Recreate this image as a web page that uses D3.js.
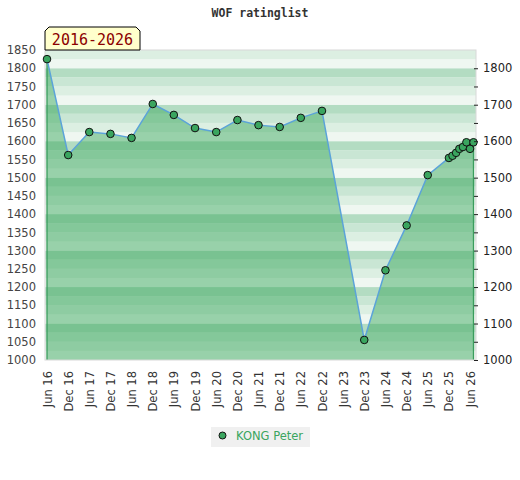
<!DOCTYPE html>
<html>
<head>
<meta charset="utf-8">
<script src="https://cdn.jsdelivr.net/npm/d3@7"></script>
<style>
  body { margin: 0; background: #fff; }
  svg text { font-family: "DejaVu Sans", sans-serif; }
</style>
</head>
<body>
<div id="container"></div>
<script>
const dates = [
  "2016-06", "2016-12", "2017-06", "2017-12", "2018-06", "2018-12",
  "2019-06", "2019-12", "2020-06", "2020-12", "2021-06", "2021-12",
  "2022-06", "2022-12", "2023-12", "2024-06", "2024-12", "2025-06",
  "2025-12", "2026-01", "2026-02", "2026-03", "2026-04", "2026-05",
  "2026-06", "2026-07"
];
const ratings = [
  1825, 1562, 1625, 1620, 1609, 1702,
  1672, 1636, 1625, 1658, 1644, 1639,
  1664, 1683, 1055, 1246, 1369, 1507,
  1554, 1560, 1568, 1579, 1584, 1597,
  1579, 1597
];
const xTickDates = [
  "2016-06", "2016-12", "2017-06", "2017-12", "2018-06", "2018-12",
  "2019-06", "2019-12", "2020-06", "2020-12", "2021-06", "2021-12",
  "2022-06", "2022-12", "2023-06", "2023-12", "2024-06", "2024-12",
  "2025-06", "2025-12", "2026-06"
];
const leftTicks = [1000, 1050, 1100, 1150, 1200, 1250, 1300, 1350, 1400,
  1450, 1500, 1550, 1600, 1650, 1700, 1750, 1800, 1850];
const rightTicks = [1000, 1100, 1200, 1300, 1400, 1500, 1600, 1700, 1800];
const playerName = "KONG Peter";
const title = "WOF ratinglist";
const period = "2016-2026";

const w = 520;
const h = 480;
const plot = { left: 45, right: 476, top: 50, bottom: 360 };
const parse = d3.timeParse("%Y-%m");
const fmt = d3.timeFormat("%b %y");

const points = dates.map((d, i) => ({ date: parse(d), value: ratings[i] }));

const x = d3.scaleTime()
  .domain([parse("2016-06"), parse("2026-06")])
  .range([47, 470]);
const y = d3.scaleLinear()
  .domain([1000, 1850])
  .range([plot.bottom, plot.top]);

// background stripes, 4 shades per 100 points (top of each block darkest)
const bandShades = ["#eff7f1", "#dcefe2", "#c9e6d4", "#b3dcc2"];

const svg = d3.select("#container")
  .append("svg")
  .attr("width", w)
  .attr("height", h);

svg.append("text")
  .attr("x", 260)
  .attr("y", 17)
  .attr("text-anchor", "middle")
  .style("font-family", "'DejaVu Sans Mono', monospace")
  .style("font-weight", "bold")
  .style("font-size", "11.5px")
  .attr("fill", "#333")
  .text(title);

svg.append("g")
  .selectAll("rect")
  .data(d3.range(1000, 1850, 25))
  .enter()
  .append("rect")
  .attr("x", plot.left)
  .attr("width", plot.right - plot.left)
  .attr("y", (d) => y(d + 25))
  .attr("height", (d) => y(d) - y(d + 25))
  .attr("fill", (d) => bandShades[((d - 1000) / 25) % 4]);

const area = d3.area()
  .x((d) => x(d.date))
  .y0(plot.bottom)
  .y1((d) => y(d.value));

svg.append("path")
  .datum(points)
  .attr("d", area)
  .attr("fill", "rgb(55,166,90)")
  .attr("fill-opacity", 0.47);

// side edges of the area
const first = points[0];
const last = points[points.length - 1];
[first, last].forEach((p) => {
  svg.append("line")
    .attr("x1", x(p.date))
    .attr("x2", x(p.date))
    .attr("y1", y(p.value))
    .attr("y2", plot.bottom)
    .attr("stroke", "#3a9d5d")
    .attr("stroke-width", 1.3);
});

// plot frame
svg.append("rect")
  .attr("x", plot.left)
  .attr("y", plot.top)
  .attr("width", plot.right - plot.left)
  .attr("height", plot.bottom - plot.top)
  .attr("fill", "none")
  .attr("stroke", "#d8d8d8")
  .attr("stroke-width", 1);

svg.append("path")
  .datum(points)
  .attr("d", d3.line().x((d) => x(d.date)).y((d) => y(d.value)))
  .attr("fill", "none")
  .attr("stroke", "#5ba3d9")
  .attr("stroke-width", 1.5);

svg.append("g")
  .selectAll("circle")
  .data(points)
  .enter()
  .append("circle")
  .attr("cx", (d) => x(d.date))
  .attr("cy", (d) => y(d.value))
  .attr("r", 3.8)
  .attr("fill", "#3aa55f")
  .attr("stroke", "#111")
  .attr("stroke-width", 1);

// left axis
const leftAxis = d3.axisLeft(y)
  .tickValues(leftTicks)
  .tickSize(0)
  .tickPadding(9)
  .tickFormat(d3.format("d"));
const gl = svg.append("g")
  .attr("transform", `translate(${plot.left},0)`)
  .call(leftAxis);
gl.select(".domain").remove();
gl.selectAll("text")
  .style("font-size", "11.5px")
  .attr("fill", "#444");

// right axis: ticks every 50, labels every 100
const gr = svg.append("g")
  .attr("transform", `translate(${plot.right - 2},0)`)
  .call(d3.axisRight(y).tickValues(leftTicks.filter((t) => t < 1850))
    .tickSize(4).tickFormat(""));
gr.select(".domain").remove();
gr.selectAll("line").attr("stroke", "#222");
svg.append("g")
  .attr("transform", `translate(${plot.right},0)`)
  .call(d3.axisRight(y).tickValues(rightTicks).tickSize(0).tickPadding(7)
    .tickFormat(d3.format("d")))
  .call((g) => g.select(".domain").remove())
  .selectAll("text")
  .style("font-size", "11.5px")
  .attr("fill", "#222");

// bottom axis, rotated labels
const gb = svg.append("g")
  .attr("transform", `translate(0,${plot.bottom})`)
  .call(d3.axisBottom(x).tickValues(xTickDates.map(parse)).tickSize(0)
    .tickFormat(fmt));
gb.select(".domain").remove();
gb.selectAll("text")
  .attr("transform", "rotate(-90)")
  .attr("text-anchor", "end")
  .attr("x", -11)
  .attr("y", 0)
  .attr("dy", "0.35em")
  .style("font-size", "11.5px")
  .attr("fill", "#333");

// period label box
const bx0 = 45, bx1 = 140, by0 = 27, by1 = 50, bev = 4;
svg.append("path")
  .attr("d", `M${bx0},${by1}L${bx0},${by0 + bev}L${bx0 + bev},${by0}L${bx1 - bev},${by0}L${bx1},${by0 + bev}L${bx1},${by1}Z`)
  .attr("fill", "#ffffcc")
  .attr("stroke", "#000")
  .attr("stroke-width", 1);
svg.append("text")
  .attr("x", (bx0 + bx1) / 2)
  .attr("y", 45)
  .attr("text-anchor", "middle")
  .style("font-family", "'DejaVu Sans Mono', monospace")
  .style("font-size", "15px")
  .attr("fill", "#8b0000")
  .text(period);

// legend
const legend = svg.append("g");
legend.append("rect")
  .attr("x", 211)
  .attr("y", 427)
  .attr("width", 99)
  .attr("height", 20)
  .attr("fill", "#f0f0f0");
legend.append("circle")
  .attr("cx", 222.5)
  .attr("cy", 435.5)
  .attr("r", 3.5)
  .attr("fill", "#3aa55f")
  .attr("stroke", "#111");
legend.append("text")
  .attr("x", 236)
  .attr("y", 440)
  .style("font-size", "11.5px")
  .attr("fill", "#3aa55f")
  .text(playerName);
</script>
</body>
</html>
